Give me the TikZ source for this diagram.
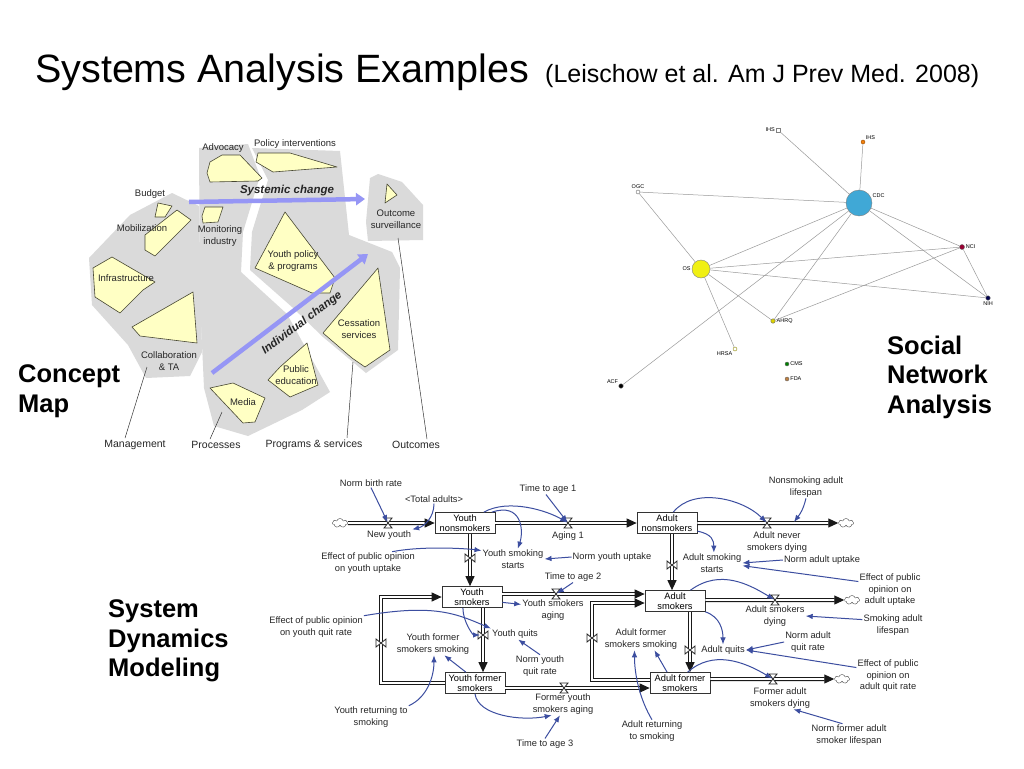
\documentclass[tikz,border=0pt]{standalone}
\usepackage{fontspec}
\setmainfont{Liberation Sans}
\usetikzlibrary{arrows.meta,shapes.symbols}

\definecolor{cmgray}{RGB}{218,218,218}
\definecolor{cmyellow}{RGB}{255,255,196}
\definecolor{cmedge}{RGB}{70,70,50}
\definecolor{cmarrow}{RGB}{150,150,245}
\definecolor{sdblue}{RGB}{60,78,160}
\definecolor{cdcblue}{RGB}{64,168,214}
\definecolor{osyellow}{RGB}{240,240,20}

\tikzset{
  region/.style={fill=cmgray},
  concept/.style={fill=cmyellow, draw=cmedge, line width=0.6pt, line join=round},
  cmlabel/.style={font=\fontsize{9.5}{12}\selectfont, text=black!85, align=center, inner sep=0pt},
  cmbottom/.style={font=\fontsize{10.5}{12}\selectfont, text=black!85, inner sep=0pt},
  cmchange/.style={font=\fontsize{11.5}{13}\bfseries\itshape\selectfont, text=black!85, inner sep=0pt},
  cmarrowline/.style={draw=cmarrow, line width=4.5pt, -{Triangle[length=9pt,width=12pt]}},
  leader/.style={draw=black!80, line width=0.5pt},
  bigtitle/.style={font=\fontsize{25.5}{29.5}\bfseries\selectfont, align=left, inner sep=0pt},
  sndot/.style={circle, draw=black!60, inner sep=0pt, minimum size=5pt},
  snlab/.style={font=\fontsize{5.5}{6}\selectfont, inner sep=1pt},
  snedge/.style={draw=black!40, line width=0.5pt},
  stock/.style={draw=black!80, fill=white, line width=0.7pt, minimum width=60pt, minimum height=21pt, inner sep=0pt, align=center, font=\fontsize{9.3}{10}\selectfont},
  aux/.style={align=center, inner sep=1pt, font=\fontsize{9.3}{11.5}\selectfont, text=black!85},
  cloudnode/.style={cloud, cloud puffs=7, aspect=1.8, draw=black!70, fill=white, minimum width=15pt, minimum height=9pt, inner sep=0pt},
  pipe/.style={draw=black!90, line width=1.1pt, double=white, double distance=1.8pt, -{Triangle[length=10pt,width=9pt]}},
  info/.style={draw=sdblue, line width=1pt, -{Latex[length=7pt,width=5.5pt]}},
  hvalve/.pic={\draw[black!85, fill=white, line width=0.8pt] (-4,-5) -- (4,-5) -- (-4,5) -- (4,5) -- cycle;},
  vvalve/.pic={\draw[black!85, fill=white, line width=0.8pt] (-5,-4) -- (-5,4) -- (5,-4) -- (5,4) -- cycle;}
}

\begin{document}
\begin{tikzpicture}[x=1pt,y=-1pt]
\useasboundingbox (0,0) rectangle (1024,768);
\fill[white] (0,0) rectangle (1024,768);

\node[anchor=base west, inner sep=0pt] (title) at (35,82) {\fontsize{39.5}{44}\selectfont Systems Analysis Examples};
\node[anchor=base west, inner sep=0pt] (subtitle) at (545,82) {\fontsize{25}{30}\selectfont (Leischow et al. Am J Prev Med. 2008)};

\node[bigtitle, anchor=west] (cmtitle) at (18,391) {Concept\\Map};
\node[bigtitle, anchor=west] (sntitle) at (887,377) {Social\\Network\\Analysis};
\node[bigtitle, anchor=west] (sdtitle) at (108,641) {System\\Dynamics\\Modeling};

\fill[region] (172,193) -- (199,206) -- (202,352) -- (190,376) -- (146,378) -- (128,345) -- (92,305) -- (89,258) -- (130,215) -- cycle;
\fill[region] (199,148) -- (248,144) -- (260,176) -- (243,232) -- (241,272) -- (287,314) -- (330,392) -- (302,410) -- (248,436) -- (214,426) -- (204,388) -- (200,300) -- cycle;
\fill[region] (252,148) -- (340,151) -- (349,235) -- (392,252) -- (400,268) -- (398,350) -- (366,373) -- (323,337) -- (292,307) -- (250,270) -- (252,232) -- (268,180) -- cycle;
\fill[region] (378,174) -- (402,182) -- (423,205) -- (423,240) -- (368,241) -- (366,222) -- (370,178) -- cycle;

\draw[concept] (210,162) -- (222,155) -- (240,155) -- (262,178) -- (258,181) -- (210,182) -- (207,173) -- cycle;
\draw[concept] (258,153) -- (290,153) -- (337,167) -- (273,172) -- (256,162) -- cycle;
\draw[concept] (158,203) -- (172,206) -- (165,217) -- (155,217) -- cycle;
\draw[concept] (177,210) -- (191,220) -- (155,256) -- (145,250) -- (145,235) -- cycle;
\draw[concept] (205,207) -- (223,207) -- (218,222) -- (203,223) -- (202,216) -- cycle;
\draw[concept] (93,268) -- (112,257) -- (155,282) -- (143,290) -- (120,313) -- (95,297) -- cycle;
\draw[concept] (132,327) -- (193,292) -- (197,343) -- (140,336) -- cycle;
\draw[concept] (285,212) -- (335,278) -- (330,293) -- (312,293) -- (255,268) -- cycle;
\draw[concept] (378,268) -- (390,350) -- (365,367) -- (352,358) -- (323,333) -- cycle;
\draw[concept] (307,343) -- (318,385) -- (290,397) -- (268,380) -- (280,367) -- cycle;
\draw[concept] (210,388) -- (233,383) -- (265,398) -- (255,422) -- (243,423) -- cycle;
\draw[concept] (387,184) -- (397,195) -- (385,203) -- cycle;

\coordinate (sysA) at (189,202);
\coordinate (sysB) at (365,199);
\coordinate (indA) at (212,373);
\coordinate (indB) at (368,254);
\draw[cmarrowline] (sysA) -- (sysB);
\draw[cmarrowline] (indA) -- (indB);

\node[cmlabel] (advocacy) at (223,148) {Advocacy};
\node[cmlabel] (policy) at (295,144) {Policy interventions};
\node[cmlabel] (budget) at (150,194) {Budget};
\node[cmlabel] (mobil) at (142,228) {Mobilization};
\node[cmlabel] (monitor) at (220,236) {Monitoring\\industry};
\node[cmlabel] (youthpol) at (293,261) {Youth policy\\\& programs};
\node[cmlabel] (infra) at (126,278) {Infrastructure};
\node[cmlabel] (collab) at (169,361) {Collaboration\\\& TA};
\node[cmlabel] (cessation) at (359,329) {Cessation\\services};
\node[cmlabel] (publicedu) at (296,375) {Public\\education};
\node[cmlabel] (media) at (243,402) {Media};
\node[cmlabel] (outsurv) at (396,219) {Outcome\\surveillance};
\node[cmchange] (systemic) at (287,191) {Systemic change};
\node[cmchange, rotate=37] (individual) at (302,323) {Individual change};

\node[cmbottom] (management) at (135,445) {Management};
\node[cmbottom] (processes) at (216,445) {Processes};
\node[cmbottom] (programs) at (314,445) {Programs \& services};
\node[cmbottom] (outcomes) at (416,445) {Outcomes};
\coordinate (mgmtEnd) at (147,367);
\coordinate (procEnd) at (222,412);
\coordinate (progEnd) at (353,362);
\coordinate (outEnd) at (398,238);
\draw[leader] (management.north) ++(-10,-2) -- (mgmtEnd);
\draw[leader] (processes.north) ++(-6,-2) -- (procEnd);
\draw[leader] (programs.north) ++(33,-2) -- (progEnd);
\draw[leader] (outcomes.north) ++(11,-2) -- (outEnd);

\node[draw=black!50, fill=white, inner sep=0pt, minimum size=3.5pt, label={[snlab]left:IHS}] (ihs1) at (778,130) {};
\node[sndot, fill=orange!80!brown, draw=orange!60!black, minimum size=4pt, label={[snlab]above right:IHS}] (ihs2) at (863,142) {};
\node[sndot, fill=white, minimum size=4pt, label={[snlab]above:OGC}] (ogc) at (638,192) {};
\node[circle, fill=cdcblue, draw=black!50, minimum size=26pt, inner sep=0pt, label={[snlab]20:CDC}] (cdc) at (859,203) {};
\node[sndot, fill=purple!80!black, minimum size=5pt, label={[snlab]right:NCI}] (nci) at (962,247) {};
\node[circle, fill=osyellow, draw=black!50, minimum size=18pt, inner sep=0pt, label={[snlab]left:OS}] (os) at (701,269) {};
\node[sndot, fill=blue!30!black, minimum size=4.5pt, label={[snlab]below:NIH}] (nih) at (988,298) {};
\node[sndot, fill=yellow!70!olive, minimum size=4.5pt, label={[snlab]right:AHRQ}] (ahrq) at (773,321) {};
\node[sndot, fill=white, draw=olive, minimum size=4pt, label={[snlab]below left:HRSA}] (hrsa) at (735,349) {};
\node[sndot, fill=green!50!black, minimum size=4pt, label={[snlab]right:CMS}] (cms) at (787,364) {};
\node[sndot, fill=brown, minimum size=4pt, label={[snlab]right:FDA}] (fda) at (787,379) {};
\node[sndot, fill=black, minimum size=4.5pt, label={[snlab]above left:ACF}] (acf) at (621,386) {};
\draw[snedge] (ihs1) -- (cdc);
\draw[snedge] (ihs2) -- (cdc);
\draw[snedge] (ogc) -- (cdc);
\draw[snedge] (ogc) -- (os);
\draw[snedge] (os) -- (cdc);
\draw[snedge] (acf) -- (cdc);
\draw[snedge] (ahrq) -- (cdc);
\draw[snedge] (nci) -- (cdc);
\draw[snedge] (nih) -- (cdc);
\draw[snedge] (os) -- (nci);
\draw[snedge] (os) -- (nih);
\draw[snedge] (os) -- (ahrq);
\draw[snedge] (os) -- (hrsa);
\draw[snedge] (ahrq) -- (nci);
\draw[snedge] (nci) -- (nih);

\node[stock] (ynon) at (465,523) {Youth\\nonsmokers};
\node[stock] (anon) at (667,523) {Adult\\nonsmokers};
\node[stock] (ysmk) at (472,597) {Youth\\smokers};
\node[stock] (asmk) at (675,601) {Adult\\smokers};
\node[stock] (yfor) at (475,683) {Youth former\\smokers};
\node[stock] (afor) at (680,683) {Adult former\\smokers};
\node[cloudnode] (c0) at (340,523) {};
\node[cloudnode] (c1) at (846,523) {};
\node[cloudnode] (c2) at (852,600) {};
\node[cloudnode] (c3) at (842,679) {};

\coordinate (vNew) at (388,523);
\coordinate (vAge1) at (568,523);
\coordinate (vNever) at (767,523);
\coordinate (vYStart) at (470,558);
\coordinate (vAStart) at (672,565);
\coordinate (vYAge) at (556,594);
\coordinate (vADie) at (775,600);
\coordinate (vYQuit) at (483,635);
\coordinate (vAQuit) at (690,650);
\coordinate (vYRel) at (381,643);
\coordinate (vARel) at (592,638);
\coordinate (vFYAge) at (564,688);
\coordinate (vFADie) at (773,679);

\draw[pipe] (c0) -- (ynon.west);
\draw[pipe] (ynon.east) -- (anon.west);
\draw[pipe] (anon.east) -- (c1);
\draw[pipe] (ynon.south -| vYStart) -- (ysmk.north -| vYStart);
\draw[pipe] (anon.south -| vAStart) -- (asmk.north -| vAStart);
\draw[pipe] (ysmk.east |- vYAge) -- (asmk.west |- vYAge);
\draw[pipe] (asmk.east |- vADie) -- (c2);
\draw[pipe] (ysmk.south -| vYQuit) -- (yfor.north -| vYQuit);
\draw[pipe] (asmk.south -| vAQuit) -- (afor.north -| vAQuit);
\draw[pipe] (yfor.west) -| (vYRel) |- (ysmk.west);
\draw[pipe] ([yshift=3pt]afor.west) -| (vARel) |- ([yshift=-2pt]asmk.west);
\draw[pipe] (yfor.east |- vFYAge) -- (afor.west |- vFYAge);
\draw[pipe] (afor.east |- vFADie) -- (c3);

\pic at (vNew) {hvalve};
\pic at (vAge1) {hvalve};
\pic at (vNever) {hvalve};
\pic at (vYStart) {vvalve};
\pic at (vAStart) {vvalve};
\pic at (vYAge) {hvalve};
\pic at (vADie) {hvalve};
\pic at (vYQuit) {vvalve};
\pic at (vAQuit) {vvalve};
\pic at (vYRel) {vvalve};
\pic at (vARel) {vvalve};
\pic at (vFYAge) {hvalve};
\pic at (vFADie) {hvalve};

\node[aux] (lNew) at (389,535) {New youth};
\node[aux] (lAge1) at (568,536) {Aging 1};
\node[aux] (lNever) at (777,542) {Adult never\\smokers dying};
\node[aux] (lYStart) at (513,559) {Youth smoking\\starts};
\node[aux] (lAStart) at (712,563) {Adult smoking\\starts};
\node[aux] (lYAge) at (553,610) {Youth smokers\\aging};
\node[aux] (lADie) at (775,616) {Adult smokers\\dying};
\node[aux] (lYQuit) at (515,634) {Youth quits};
\node[aux] (lAQuit) at (723,650) {Adult quits};
\node[aux] (lYRel) at (433,644) {Youth former\\smokers smoking};
\node[aux] (lARel) at (641,639) {Adult former\\smokers smoking};
\node[aux] (lFYAge) at (563,704) {Former youth\\smokers aging};
\node[aux] (lFADie) at (780,698) {Former adult\\smokers dying};

\node[aux] (nbr) at (371,483) {Norm birth rate};
\node[aux] (tad) at (434,499) {\textless Total adults\textgreater};
\node[aux] (tta1) at (548,489) {Time to age 1};
\node[aux] (epoyu) at (368,563) {Effect of public opinion\\on youth uptake};
\node[aux] (nyu) at (612,557) {Norm youth uptake};
\node[aux] (tta2) at (573,577) {Time to age 2};
\node[aux] (nsal) at (806,487) {Nonsmoking adult\\lifespan};
\node[aux] (nau) at (822,560) {Norm adult uptake};
\node[aux] (epoau) at (890,590) {Effect of public\\opinion on\\adult uptake};
\node[aux] (sal) at (893,625) {Smoking adult\\lifespan};
\node[aux] (naqr) at (808,642) {Norm adult\\quit rate};
\node[aux] (epoaq) at (888,676) {Effect of public\\opinion on\\adult quit rate};
\node[aux] (nfas) at (849,735) {Norm former adult\\smoker lifespan};
\node[aux] (epoyq) at (316,627) {Effect of public opinion\\on youth quit rate};
\node[aux] (nyqr) at (540,666) {Norm youth\\quit rate};
\node[aux] (yrs) at (371,717) {Youth returning to\\smoking};
\node[aux] (tta3) at (545,744) {Time to age 3};
\node[aux] (ars) at (652,731) {Adult returning\\to smoking};
\coordinate (nsalEnd) at (794,522);

\draw[info, shorten >=1pt] (nbr.south) -- (vNew);
\draw[info] (tad.south) .. controls +(0,14) and +(12,-3) .. (lNew.north east);
\draw[info, shorten >=1pt] (tta1.250) -- (vAge1);
\draw[info, shorten >=1pt] (ynon.30) .. controls +(25,-14) and +(-20,-12) .. (vAge1);
\draw[info] (ynon.22) .. controls +(30,-10) and +(6,-18) .. (lYStart.65);
\draw[info] (epoyu.25) .. controls +(30,-6) and +(-15,-2) .. (lYStart.165);
\draw[info] (nyu.west) -- (lYStart.east);
\draw[info, shorten >=1pt] (tta2.south) -- (vYAge);
\draw[info] (ysmk.-10) -- (lYAge.170);
\draw[info] (nsal.south) .. controls +(-3,12) and +(6,-8) .. (nsalEnd);
\draw[info, shorten >=1pt] (anon.60) .. controls +(20,-25) and +(-25,-25) .. (vNever);
\draw[info] (anon.-15) .. controls +(15,3) and +(0,-12) .. (lAStart.80);
\draw[info] (nau.west) -- (lAStart.east);
\draw[info] (epoau.165) -- (lAStart.-5);
\draw[info, shorten >=1pt] (asmk.35) .. controls +(30,-22) and +(-25,-15) .. (vADie);
\draw[info] (sal.170) -- (lADie.east);
\draw[info] (asmk.south east) .. controls +(15,5) and +(0,-14) .. (lAQuit.north);
\draw[info] (naqr.west) -- (lAQuit.east);
\draw[info] (epoaq.165) -- (lAQuit.east);
\draw[info, shorten >=1pt] (afor.55) .. controls +(25,-22) and +(-30,-18) .. (vFADie);
\draw[info] (nfas.120) -- (lFADie.-40);
\draw[info, shorten >=3pt] (ysmk.-130) .. controls +(0,14) and +(-10,0) .. (vYQuit);
\draw[info] (epoyq.north east) .. controls +(70,-12) and +(-35,-15) .. (lYQuit.north west);
\draw[info] (nyqr.north) -- (lYQuit.-60);
\draw[info] (yfor.130) -- (lYRel.-45);
\draw[info] (yrs.north east) .. controls +(18,-8) and +(0,22) .. (lYRel.-85);
\draw[info] (yfor.south) .. controls +(3,22) and +(-30,6) .. (lFYAge.-135);
\draw[info] (tta3.north) -- (lFYAge.-105);
\draw[info] (afor.140) -- (lARel.-40);
\draw[info] (ars.north) .. controls +(-12,-20) and +(0,25) .. (lARel.-120);
\end{tikzpicture}
\end{document}
